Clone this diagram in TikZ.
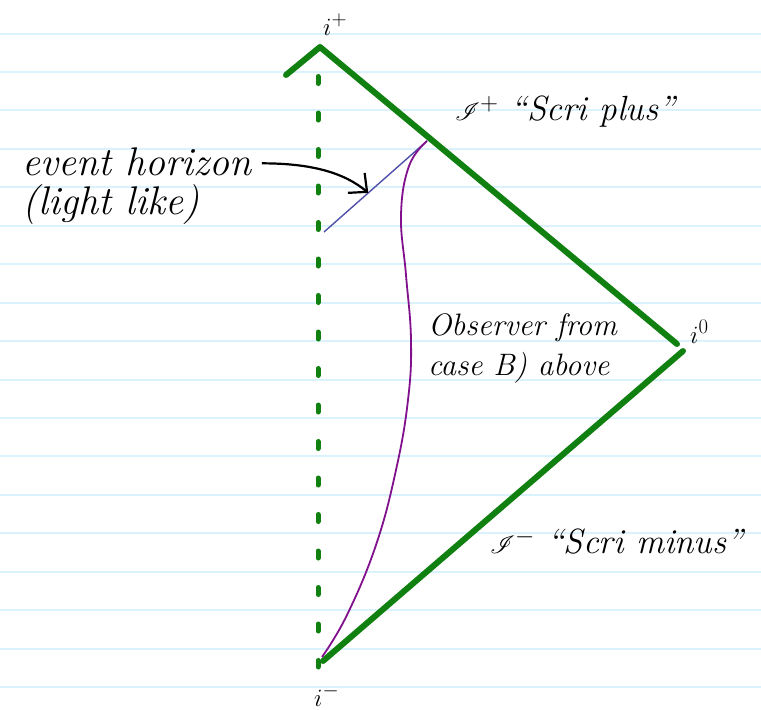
\documentclass[tikz,border=0pt]{standalone}
\usepackage{amsmath,amssymb}
\usepackage{mathrsfs}
\usepackage{xcolor}
\usepackage{tikz}
\usetikzlibrary{arrows.meta,calc,positioning}

\definecolor{penrosegreen}{RGB}{16,128,16}
\definecolor{observerpurple}{RGB}{128,16,140}
\definecolor{horizonblue}{RGB}{80,80,170}
\definecolor{paperline}{RGB}{218,242,252}

\begin{document}
\begin{tikzpicture}[
    x=1pt, y=-1pt,
    scri/.style={draw=penrosegreen, line width=6pt, line cap=round, line join=round},
    centre/.style={draw=penrosegreen, line width=5pt, line cap=round, dash pattern=on 7pt off 29.5pt},
    observer/.style={draw=observerpurple, line width=1.8pt},
    horizon/.style={draw=horizonblue, line width=1.4pt},
    pointer/.style={draw=black, line width=2.2pt, -{Straight Barb[length=14pt, width=26pt, line width=2.2pt]}},
    hand/.style={font=\fontsize{35}{40}\selectfont\itshape, inner sep=0pt},
    infinity/.style={font=\fontsize{32}{36}\selectfont, inner sep=0pt}
]

% paper
\useasboundingbox (0,0) rectangle (761,710);
\fill[white] (0,0) rectangle (761,710);
\foreach \k in {0,...,17}
    \draw[paperline, line width=2pt] (0,33.5+38.45*\k) -- (761,33.5+38.45*\k);

% corners of the diagram
\coordinate (topleft) at (286,75);
\coordinate (iplus) at (320,47);
\coordinate (izeroa) at (677,344);
\coordinate (izerob) at (683,351);
\coordinate (iminus) at (323,661);
\coordinate (dashtop) at (318,76.5);
\coordinate (dashbot) at (318,667);

% null infinity and the centre r = 0
\draw[scri] (topleft) -- (iplus) -- (izeroa);
\draw[scri] (izerob) -- (iminus);
\draw[centre] (dashtop) -- (dashbot);

% event horizon
\coordinate (hzbot) at (324,232);
\coordinate (hztop) at (427,141);
\draw[horizon] (hzbot) -- (hztop);

% observer world line
\coordinate (obsstart) at (322,657);
\draw[observer] plot[smooth, tension=0.7] coordinates {
    (obsstart) (347,615) (376,545) (396,470) (408,400)
    (411,340) (406,275) (401,215) (409,166) (hztop)};

% labels of the points at infinity
\node[infinity, anchor=base west] (iplusl) at (323,35) {$i^{+}$};
\node[infinity, anchor=base west] (izerol) at (690,343) {$i^{0}$};
\node[infinity, anchor=base west] (iminusl) at (314,706) {$i^{-}$};

% scri labels
\node[hand, anchor=base west] (scriplus) at (455,120) {$\mathscr{I}^{+}$ ``Scri plus''};
\node[hand, anchor=base west] (scriminus) at (490,553) {$\mathscr{I}^{-}$ ``Scri minus''};

% horizon label
\node[hand, font=\fontsize{40}{44}\selectfont\itshape, anchor=base west] (horizonl) at (22,175) {event horizon};
\node[hand, font=\fontsize{40}{44}\selectfont\itshape, anchor=base west] (horizonlb) at (22,214) {(light like)};
\draw[pointer] (horizonl.east) ++(10,2) .. controls +(50,0) and +(-24,-20) .. ($(hzbot)!0.43!(hztop)$);

% observer label
\node[hand, font=\fontsize{31}{36}\selectfont\itshape, anchor=base west] (observerl) at (428,335) {Observer from};
\node[hand, font=\fontsize{31}{36}\selectfont\itshape, anchor=base west] (observerlb) at (428,375) {case B) above};

\end{tikzpicture}
\end{document}
